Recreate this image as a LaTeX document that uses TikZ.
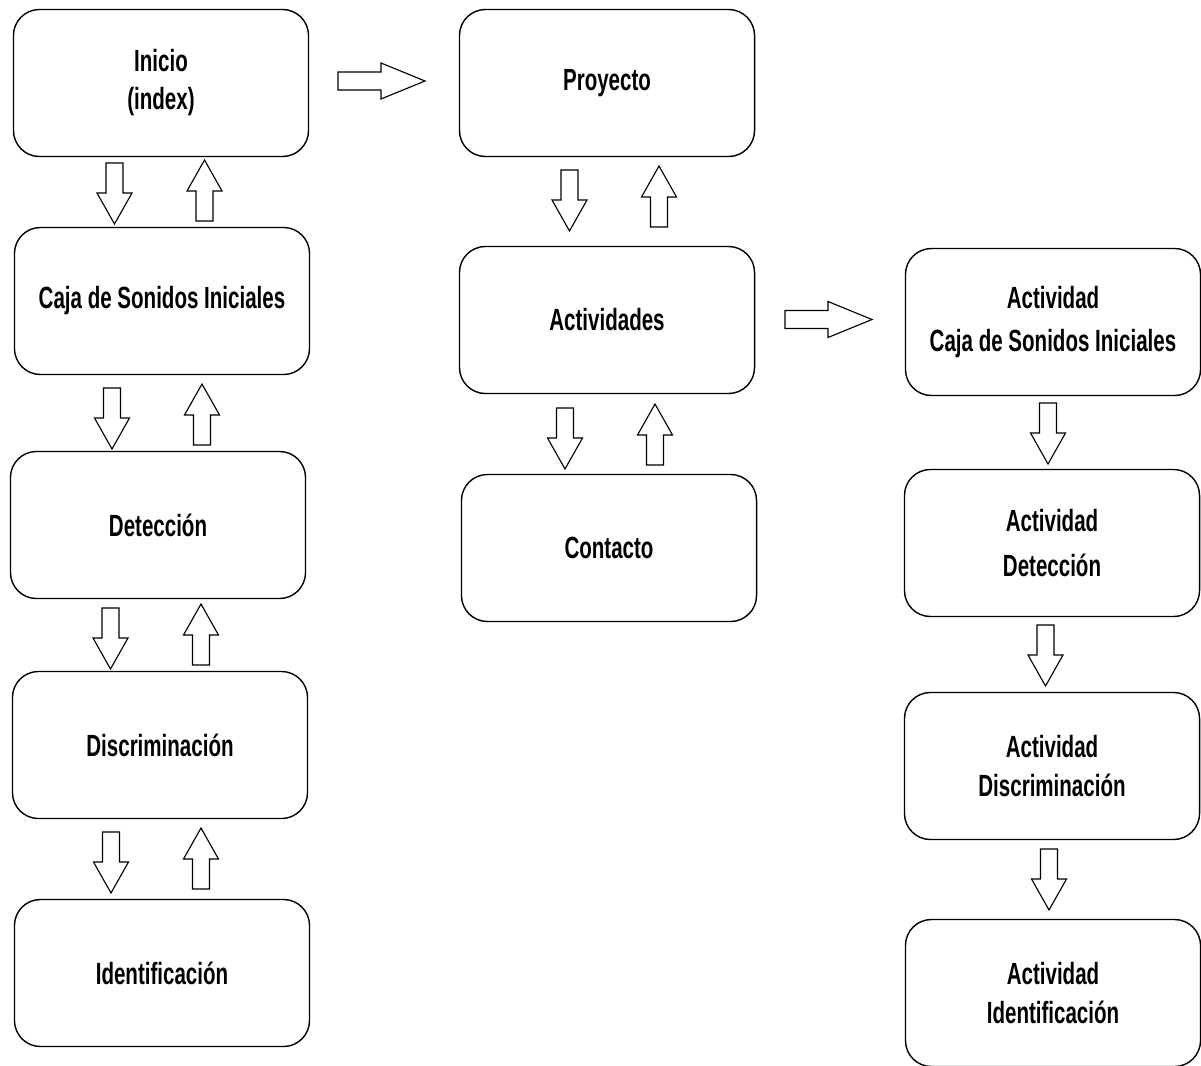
\documentclass[tikz,border=0pt]{standalone}
\usepackage{fontspec}
\setmainfont{Liberation Sans}[FakeStretch=0.67]

\begin{document}
\begin{tikzpicture}[x=0.025cm,y=-0.025cm,
  caja/.style={draw, line width=1pt, rounded corners=0.65cm,
    minimum width=7.375cm, minimum height=3.675cm, align=center,
    font=\fontsize{21.8}{27}\selectfont\bfseries},
  baja/.pic={\draw[line width=0.8pt, fill=white] (-8.5,0) -- (8.5,0) -- (8.5,30) -- (17.5,30) -- (0,61) -- (-17.5,30) -- (-8.5,30) -- cycle;},
  sube/.pic={\draw[line width=0.8pt, fill=white] (-8.5,0) -- (8.5,0) -- (8.5,-30) -- (17.5,-30) -- (0,-61) -- (-17.5,-30) -- (-8.5,-30) -- cycle;},
  avanza/.pic={\draw[line width=0.8pt, fill=white] (0,-9) -- (43,-9) -- (43,-18) -- (87,0) -- (43,18) -- (43,9) -- (0,9) -- cycle;}]
  \fill[white] (0,0) rectangle (1201,1065);
  \useasboundingbox (0,0) rectangle (1201,1065);

  % columna principal
  \node[caja] (inicio) at (161,83) {Inicio\\(index)};
  \node[caja] (sonidos) at (162,301) {Caja de Sonidos Iniciales};
  \node[caja] (deteccion) at (158,525) {Detección};
  \node[caja] (discriminacion) at (160,745) {Discriminación};
  \node[caja] (identificacion) at (162,973) {Identificación};

  % proyecto
  \node[caja] (proyecto) at (607,83) {Proyecto};
  \node[caja] (actividades) at (607,320) {Actividades};
  \node[caja] (contacto) at (609,548) {Contacto};

  % actividades
  \node[caja] (actsonidos) at (1053,322) {Actividad\\[4pt]Caja de Sonidos Iniciales};
  \node[caja] (actdeteccion) at (1052,543) {Actividad\\[5pt]Detección};
  \node[caja] (actdiscriminacion) at (1052,766) {Actividad\\[1pt]Discriminación};
  \node[caja] (actidentificacion) at (1053,993) {Actividad\\[1pt]Identificación};

  \pic at (114.5,163) {baja};
  \pic at (204.5,221) {sube};
  \pic at (112,388) {baja};
  \pic at (202,445) {sube};
  \pic at (110.5,608) {baja};
  \pic at (201,665) {sube};
  \pic at (111,832) {baja};
  \pic at (201,889) {sube};

  \pic at (569.5,170) {baja};
  \pic at (659,227) {sube};
  \pic at (565,408) {baja};
  \pic at (655,465) {sube};

  \pic at (1048,403) {baja};
  \pic at (1045.5,625) {baja};
  \pic at (1049,849) {baja};

  \pic at (338,81) {avanza};
  \pic at (785,319.5) {avanza};
\end{tikzpicture}
\end{document}
